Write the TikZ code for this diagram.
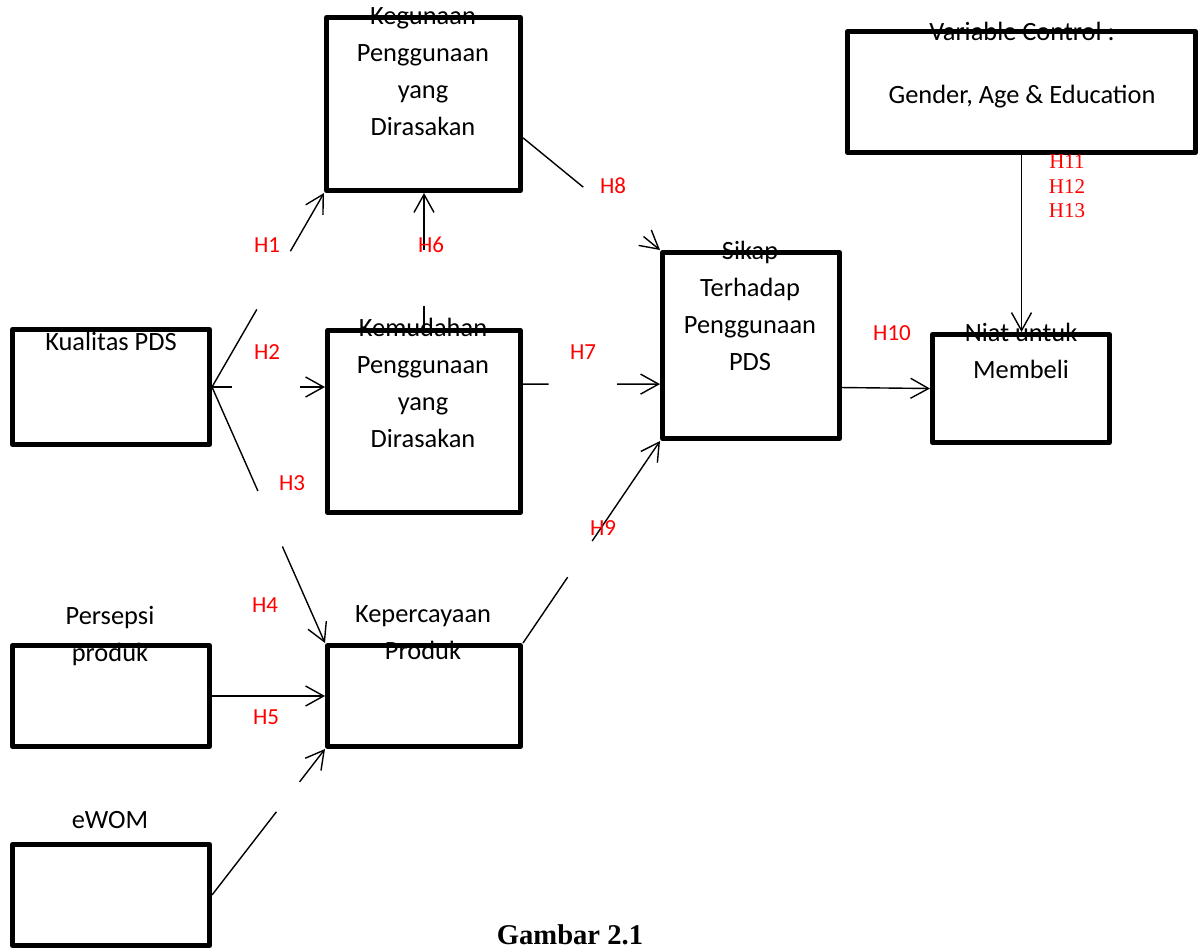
\documentclass[tikz,border=0pt]{standalone}
\usepackage{fontspec}
\setmainfont{Carlito}
\newfontfamily\timesfont{Liberation Serif}
\usetikzlibrary{arrows.meta,calc}
\tikzset{
 box/.style={draw, line width=2.5pt, line join=round, inner sep=0pt},
 lbl/.style={font=\fontsize{13.2}{18.5}\selectfont, align=center, inner sep=0pt},
 hyp/.style={text=red, font=\fontsize{11.5}{13}\selectfont, inner sep=0pt, anchor=base},
 conn/.style={line width=0.7pt},
 arr/.style={conn, -{Straight Barb[length=9pt,width=10pt]}},
}
\begin{document}
\begin{tikzpicture}[x=0.5pt,y=-0.5pt]
\useasboundingbox (0,0) rectangle (1203,948);
\fill[white] (0,0) rectangle (1203,948);
% boxes
\node[box, minimum width=97pt, minimum height=86.5pt] (keg) at (423.5,104) {};
\node[box, minimum width=96.5pt, minimum height=91pt] (kem) at (424,421.5) {};
\node[box, minimum width=98.5pt, minimum height=57.5pt] (kual) at (111,387) {};
\node[box, minimum width=88.5pt, minimum height=93pt] (sikap) at (751,345.5) {};
\node[box, minimum width=88.5pt, minimum height=54pt] (niat) at (1021,388.5) {};
\node[box, minimum width=174pt, minimum height=60.5pt] (var) at (1021.5,92) {};
\node[box, minimum width=98.5pt, minimum height=50.5pt] (pers) at (111,696) {};
\node[box, minimum width=96.5pt, minimum height=50.5pt] (kep) at (424,696) {};
\node[box, minimum width=98.5pt, minimum height=50.5pt] (ewom) at (111,895) {};
% texts
\node[lbl] (kegT) at (423,71.5) {Kegunaan\\Penggunaan\\yang\\Dirasakan};
\node[lbl] (kemT) at (423,382.5) {Kemudahan\\Penggunaan\\yang\\Dirasakan};
\node[lbl, anchor=base] (kualT) at (111,350) {Kualitas PDS};
\node[lbl] (sikapT) at (750,305.75) {Sikap\\Terhadap\\Penggunaan\\PDS};
\node[lbl] (niatT) at (1021,351) {Niat untuk\\Membeli};
\node[lbl] (varT) at (1022,64.75) {Variable Control :\\[13pt]Gender, Age \& Education};
\node[lbl] (persT) at (110,636) {Persepsi\\produk};
\node[lbl] (kepT) at (423,632.5) {Kepercayaan\\Produk};
\node[lbl, anchor=base] (ewomT) at (110,828) {eWOM};
% connectors
% H1
\draw[conn] (kual.east) -- ($(kual.east)!0.40!(keg.south west)$);
\draw[arr] ($(kual.east)!0.70!(keg.south west)$) -- (keg.south west);
% H2
\coordinate (h2e) at (kual.east -| kem.west);
\draw[conn] (kual.east) -- ($(kual.east)!0.18!(h2e)$);
\draw[arr] ($(kual.east)!0.775!(h2e)$) -- (h2e);
% H3/H4
\draw[conn] (kual.east) -- ($(kual.east)!0.406!(kep.north west)$);
\draw[arr] ($(kual.east)!0.623!(kep.north west)$) -- (kep.north west);
% H6
\coordinate (h6e) at (kem.north |- keg.south);
\draw[conn] (kem.north) -- ($(kem.north)!0.16!(h6e)$);
\draw[arr] ($(kem.north)!0.575!(h6e)$) -- (h6e);
% H8
\coordinate (h8s) at ($(keg.south east)!0.31!(keg.north east)$);
\draw[conn] (h8s) -- ($(h8s)!0.44!(sikap.north west)$);
\draw[arr] ($(h8s)!0.88!(sikap.north west)$) -- (sikap.north west);
% H7
\coordinate (h7s) at ($(kem.north east)!0.30!(kem.south east)$);
\coordinate (h7e) at (h7s -| sikap.west);
\draw[conn] (h7s) -- ($(h7s)!0.187!(h7e)$);
\draw[arr] ($(h7s)!0.687!(h7e)$) -- (h7e);
% H9
\draw[conn] (kep.north east) -- ($(kep.north east)!0.326!(sikap.south west)$);
\draw[arr] ($(kep.north east)!0.505!(sikap.south west)$) -- (sikap.south west);
% H10
\coordinate (h10s) at ($(sikap.south east)!0.28!(sikap.north east)$);
\draw[arr] (h10s) -- (niat.west);
% H11-13
\draw[arr] (var.south) -- (var.south |- niat.north);
% H5
\draw[arr] (pers.east) -- (kep.west);
% eWOM
\draw[conn] (ewom.east) -- ($(ewom.east)!0.57!(kep.south west)$);
\draw[arr] ($(ewom.east)!0.775!(kep.south west)$) -- (kep.south west);
% hypothesis labels
\node[hyp] (lh1) at (267,252.5) {H1};
\node[hyp] (lh6) at (431,252.5) {H6};
\node[hyp] (lh8) at (613,193.5) {H8};
\node[hyp] (lh2) at (267,359.5) {H2};
\node[hyp] (lh7) at (583,359.5) {H7};
\node[hyp] (lh3) at (292,490.5) {H3};
\node[hyp] (lh9) at (603,535.5) {H9};
\node[hyp] (lh10) at (892,340.5) {H10};
\node[hyp] (lh4) at (265,612.5) {H4};
\node[hyp] (lh5) at (266,724.5) {H5};
\node[text=red, font={\timesfont\fontsize{10.5}{12.25}\selectfont}, align=center, inner sep=0pt] (lh11) at (1067,186.5) {H11\\H12\\H13};
% caption
\node[font={\timesfont\bfseries\fontsize{14.3}{16}\selectfont}, anchor=base, inner sep=0pt] (cap) at (570,944) {Gambar 2.1};
\end{tikzpicture}
\end{document}
